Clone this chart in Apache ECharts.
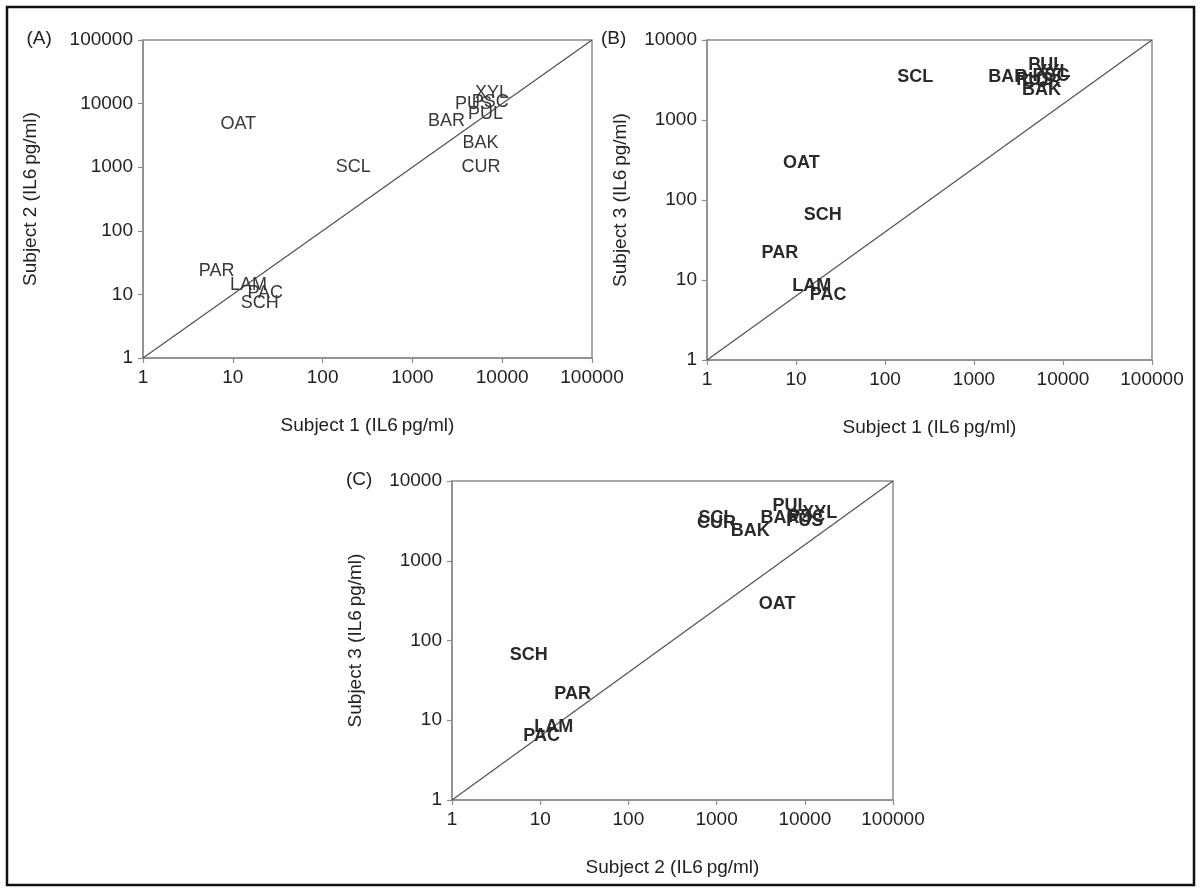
<!DOCTYPE html>
<html><head><meta charset="utf-8">
<script src="https://cdn.jsdelivr.net/npm/echarts@6/dist/echarts.min.js"></script>
<style>html,body{margin:0;padding:0;background:#fff}#chart{width:1201px;height:892px}</style>
</head><body><div id="chart"></div>
<script>
// beta-glucan labels and IL6 responses (pg/ml) per subject
const labels   = ['OAT','SCL','PAR','LAM','PAC','SCH','BAR','PUS','XYL','PUL','PSC','BAK','CUR'];
const subject1 = [11.5, 219, 6.6, 15.0, 23, 20, 2400, 4800, 7700, 6500, 7350, 5750, 5800];
const subject2 = [4850, 1000, 23.3, 14.2, 10.4, 7.4, 5250, 10000, 14800, 6900, 10500, 2400, 1000];
const subject3 = [290, 3430, 21.5, 8.3, 6.4, 65, 3470, 3120, 3960, 4850, 3550, 2380, 2970];
const xTicks  = ['1','10','100','1000','10000','100000'];
const yTicksA = ['1','10','100','1000','10000','100000'];
const yTicksBC = ['1','10','100','1000','10000'];
const panelLetters = ['(A)','(B)','(C)'];
const xNames = ['Subject 1 (IL6\u2009pg/ml)','Subject 1 (IL6\u2009pg/ml)','Subject 2 (IL6\u2009pg/ml)'];
const yNames = ['Subject 2 (IL6\u2009pg/ml)','Subject 3 (IL6\u2009pg/ml)','Subject 3 (IL6\u2009pg/ml)'];

const FONT = '"Liberation Sans", Arial, sans-serif';
const AXIS_COLOR = '#8c8c8c';
const panels = [
  {xs: subject1, ys: subject2, xt: xTicks, yt: yTicksA, rect: [143, 40, 449, 318], yGap: 103, bold: false},
  {xs: subject1, ys: subject3, xt: xTicks, yt: yTicksBC, rect: [707, 40, 445, 320], yGap: 77, bold: true},
  {xs: subject2, ys: subject3, xt: xTicks, yt: yTicksBC, rect: [452, 481, 441, 319], yGap: 87, bold: true}
];

const grid = [], xAxis = [], yAxis = [], series = [], graphic = [];
panels.forEach((p, i) => {
  const [l, t, w, h] = p.rect;
  grid.push({left: l, top: t, width: w, height: h, show: true, borderColor: AXIS_COLOR, borderWidth: 1.5});
  const xmax = Number(p.xt[p.xt.length - 1]);
  const ymax = Number(p.yt[p.yt.length - 1]);
  const common = {
    type: 'log', logBase: 10, gridIndex: i, nameLocation: 'middle',
    axisLine: {show: true, lineStyle: {color: AXIS_COLOR, width: 1.5}},
    axisTick: {show: true, inside: false, length: 5, lineStyle: {color: AXIS_COLOR, width: 1.2}},
    splitLine: {show: false},
    nameTextStyle: {fontFamily: FONT, fontSize: 19, color: '#222'},
    axisLabel: {fontFamily: FONT, fontSize: 19, color: '#222', margin: 10,
      formatter: v => String(Math.round(v))}
  };
  xAxis.push(Object.assign({}, common, {min: 1, max: xmax, splitNumber: p.xt.length - 1,
    name: xNames[i], nameGap: 58}));
  yAxis.push(Object.assign({}, common, {min: 1, max: ymax, splitNumber: p.yt.length - 1,
    name: yNames[i], nameGap: p.yGap}));
  series.push({
    type: 'line', xAxisIndex: i, yAxisIndex: i, silent: true, symbol: 'none',
    data: [[1, 1], [xmax, ymax]],
    lineStyle: {color: '#555', width: 1.3}
  });
  series.push({
    type: 'scatter', xAxisIndex: i, yAxisIndex: i, silent: true,
    symbolSize: 2, itemStyle: {color: 'rgba(0,0,0,0)', opacity: 1},
    data: labels.map((n, k) => ({name: n, value: [p.xs[k], p.ys[k]]})),
    label: {show: true, position: 'inside', formatter: '{b}', fontFamily: FONT,
      fontSize: 18, fontWeight: p.bold ? 'bold' : 'normal', color: p.bold ? '#2a2a2a' : '#383838'},
    labelLayout: {hideOverlap: false},
    z: 5
  });
  // panel letter placed left of the top tick label
  const topLabelWidth = p.yt[p.yt.length - 1].length * 10.6;
  graphic.push({type: 'text', left: l - 15 - topLabelWidth - 6 - 32, top: t - 11,
    style: {text: panelLetters[i], font: '19px ' + FONT, fill: '#222'}});
});
graphic.push({type: 'rect', shape: {x: 7, y: 7, width: 1187, height: 878},
  style: {fill: 'none', stroke: '#111', lineWidth: 2.5}});

const chart = echarts.init(document.getElementById('chart'), null, {renderer: 'canvas'});
chart.setOption({backgroundColor: '#fff', animation: false, grid, xAxis, yAxis, series, graphic});
</script></body></html>
